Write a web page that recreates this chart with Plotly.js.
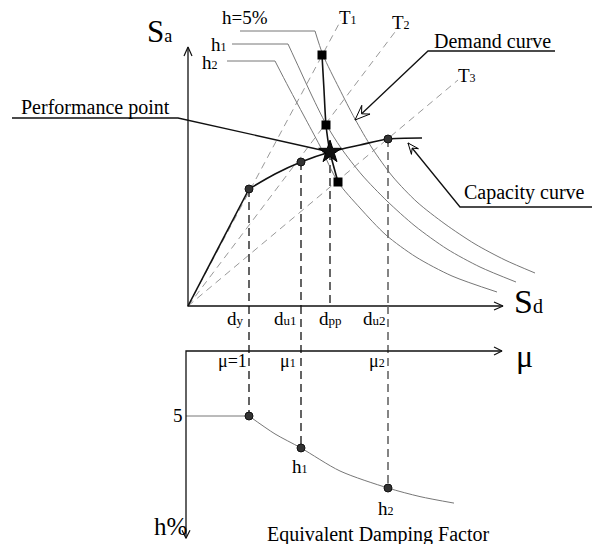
<!DOCTYPE html>
<html>
<head>
<meta charset="utf-8">
<script src="https://cdn.plot.ly/plotly-3.0.1.min.js"></script>
<style>html,body{margin:0;padding:0;background:#fff}#chart{width:592px;height:544px}</style>
</head>
<body>
<div id="chart"></div>
<script>
// ---------- DATA (schematic units: Sd / Sa, damping h%) ----------
const capElasticSd = [0, 61];
const capElasticSa = [0, 117];
const capPlasticSd = [61, 87, 113, 142, 172, 200, 234];
const capPlasticSa = [117, 132, 144, 154, 161, 167, 168];

const demand5Sd  = [127, 135, 151, 167, 184, 205, 229, 257, 287, 317, 347];
const demand5Sa  = [275, 251, 218, 187, 158, 129, 104, 82, 62, 46, 33];
const demandH1Sd = [100, 112, 124, 138, 153, 174, 199, 227, 259, 292, 328];
const demandH1Sa = [262, 236, 210, 182, 158, 131, 105, 80, 57, 39, 24];
const demandH2Sd = [87, 101, 116, 132, 150, 172, 198, 228, 264, 309];
const demandH2Sa = [245, 218, 190, 160, 124, 98, 71, 49, 30, 14];

const demandLabels = ['h=5%', 'h<span style="font-size:12px">1</span>', 'h<span style="font-size:12px">2</span>'];
const demandLabelSd = [52, 44, 39];

const periodLabels = ['T<span style="font-size:12px">1</span>', 'T<span style="font-size:12px">2</span>', 'T<span style="font-size:12px">3</span>'];
const periodEndSd = [153, 210, 270];
const periodEndSa = [286, 278, 226];

const trialSd = [134, 136, 138, 142, 150];
const trialSa = [251, 216, 181, 154, 124];
const trialMarkSd = [134, 138, 150];
const trialMarkSa = [251, 181, 124];

const ppSd = 142, ppSa = 154;

const dispLabels = ['d<span style="font-size:13px">y</span>', 'd<span style="font-size:13px">u1</span>',
                    'd<span style="font-size:13px">pp</span>', 'd<span style="font-size:13px">u2</span>'];
const dispSd = [61, 113, 142, 200];
const dispSa = [117, 144, 154, 167];

const muLabels = ['μ=1', 'μ<span style="font-size:12px">1</span>', 'μ<span style="font-size:12px">2</span>'];
const dampPointSd = [61, 113, 200];
const dampPointH  = [5, 7.46, 10.54];
const dampCurveSd = [61, 87, 113, 152, 200, 232, 266];
const dampCurveH  = [5, 6.38, 7.46, 9.23, 10.54, 11.2, 11.7];
const dampLabels = ['h<span style="font-size:12px">1</span>', 'h<span style="font-size:12px">2</span>'];

// ---------- frame geometry ----------
const W = 592, H = 544;
const xRange = [-188, 404];            // 1 unit = 1 px
const yRange = [-238, 306];            // 1 unit = 1 px
const hScale = 13, hZeroPx = 351;      // bottom panel: px per h%, px row of mu axis
const y2Range = [(H - hZeroPx) / hScale, -hZeroPx / hScale];

const toPx = (x, v, f) => [x - xRange[0], f === 'y2' ? hZeroPx + hScale * v : yRange[1] - v];
const fromPx = (px, py, f) => [px + xRange[0], f === 'y2' ? (py - hZeroPx) / hScale : yRange[1] - py];

function line(xs, ys, opts, yaxis) {
  return Object.assign({type: 'scatter', mode: 'lines', x: xs, y: ys, hoverinfo: 'skip',
    yaxis: yaxis || 'y', line: opts}, {});
}
function openArrow(tailX, tailY, tipX, tipY, f, len, half, col, w) {
  const [tx, ty] = toPx(tipX, tipY, f), [sx, sy] = toPx(tailX, tailY, f);
  let dx = tx - sx, dy = ty - sy; const n = Math.hypot(dx, dy); dx /= n; dy /= n;
  const bx = tx - dx * len, by = ty - dy * len, ppx = -dy, ppy = dx;
  const a1 = fromPx(bx + ppx * half, by + ppy * half, f), a2 = fromPx(bx - ppx * half, by - ppy * half, f);
  return line([a1[0], tipX, a2[0]], [a1[1], tipY, a2[1]], {color: col, width: w}, f);
}
function hollowArrow(tailX, tailY, tipX, tipY, len, half) {
  const [tx, ty] = toPx(tipX, tipY, 'y'), [sx, sy] = toPx(tailX, tailY, 'y');
  let dx = tx - sx, dy = ty - sy; const n = Math.hypot(dx, dy); dx /= n; dy /= n;
  const bx = tx - dx * len, by = ty - dy * len, ppx = -dy, ppy = dx;
  const nx = tx - dx * len * 0.6, ny = ty - dy * len * 0.6;
  const pts = [[tx, ty], [bx + ppx * half, by + ppy * half], [nx, ny], [bx - ppx * half, by - ppy * half], [tx, ty]]
    .map(p => fromPx(p[0], p[1], 'y'));
  return {type: 'scatter', mode: 'lines', x: pts.map(p => p[0]), y: pts.map(p => p[1]), fill: 'toself',
    fillcolor: '#fff', line: {color: '#000', width: 1}, hoverinfo: 'skip'};
}

const traces = [];
const grey = '#777', dashGrey = '#999';

// period lines (dashed)
for (let i = 0; i < periodEndSd.length; i++)
  traces.push(line([0, periodEndSd[i]], [0, periodEndSa[i]], {color: dashGrey, width: 1, dash: '7px,5px'}));

// demand curves + leaders
const dSd = [demand5Sd, demandH1Sd, demandH2Sd], dSa = [demand5Sa, demandH1Sa, demandH2Sa];
for (let i = 0; i < 3; i++) {
  traces.push(line(dSd[i], dSa[i], {color: grey, width: 1, shape: 'spline', smoothing: 0.8}));
  traces.push(line([demandLabelSd[i], dSd[i][0]], [dSa[i][0], dSa[i][0]], {color: grey, width: 1}));
}

// capacity curve
traces.push(line(capElasticSd, capElasticSa, {color: '#111', width: 1.6}));
traces.push(line(capPlasticSd, capPlasticSa, {color: '#111', width: 1.6, shape: 'spline', smoothing: 0.8}));

// trial-point path
traces.push(line(trialSd, trialSa, {color: '#111', width: 1.6, shape: 'spline', smoothing: 0.6}));

// vertical dashed projection lines
const vColors = ['#111', '#111', '#666', '#666'], vWidth = [1.3, 1.3, 2, 1.6];
const sdAxisH = (yRange[1] - hZeroPx) / hScale; // Sd axis row in h units (negative)
for (let i = 0; i < dispSd.length; i++) {
  traces.push(line([dispSd[i], dispSd[i]], [dispSa[i], 0], {color: vColors[i], width: vWidth[i], dash: '8px,5px'}));
}
const dampIdx = [0, 1, 3];
dampIdx.forEach((di, k) => {
  traces.push(line([dispSd[di], dispSd[di]], [sdAxisH, dampPointH[k]], {color: vColors[di], width: vWidth[di], dash: '8px,5px'}, 'y2'));
});

// damping curve
traces.push(line([-2, dampPointSd[0]], [dampPointH[0], dampPointH[0]], {color: grey, width: 1}, 'y2'));
traces.push(line(dampCurveSd, dampCurveH, {color: grey, width: 1, shape: 'spline', smoothing: 0.8}, 'y2'));

// axes
traces.push(line([0, 0, 315], [259, 0, 0], {color: '#111', width: 1.3}));
traces.push(openArrow(0, 0, 0, 259, 'y', 9, 4, '#111', 1.2));
traces.push(openArrow(0, 0, 315, 0, 'y', 9, 4, '#111', 1.2));
traces.push(line([-2, -2, 314], [14.4, 0, 0], {color: '#111', width: 1.3}, 'y2'));
traces.push(openArrow(0, 0, 314, 0, 'y2', 8, 4, '#111', 1.2));
traces.push(openArrow(-2, 0, -2, 14.4, 'y2', 8, 4, '#111', 1.2));

// leaders
traces.push(line([-176, -10, ppSd], [188, 188, ppSa], {color: '#111', width: 1.3}));
traces.push(line([367, 240, 167], [255, 255, 186], {color: '#111', width: 1.3}));
traces.push(hollowArrow(240, 255, 167, 186, 15, 6));
traces.push(line([404, 272, 220], [99, 99, 163], {color: '#111', width: 1.3}));
traces.push(hollowArrow(272, 99, 220, 163, 11, 4.5));

// markers
traces.push({type: 'scatter', mode: 'markers', x: [dispSd[0], dispSd[1], dispSd[3]], y: [dispSa[0], dispSa[1], dispSa[3]],
  marker: {symbol: 'circle', size: 8, color: '#333', line: {color: '#111', width: 1}}, hoverinfo: 'skip'});
traces.push({type: 'scatter', mode: 'markers', x: dampPointSd, y: dampPointH, yaxis: 'y2',
  marker: {symbol: 'circle', size: 8, color: '#333', line: {color: '#111', width: 1}}, hoverinfo: 'skip'});
traces.push({type: 'scatter', mode: 'markers', x: trialMarkSd, y: trialMarkSa,
  marker: {symbol: 'square', size: 9, color: '#000'}, hoverinfo: 'skip'});
traces.push({type: 'scatter', mode: 'markers', x: [ppSd], y: [ppSa],
  marker: {symbol: 'star', size: 17, color: '#111', line: {color: '#000', width: 1}}, hoverinfo: 'skip'});

// ---------- text ----------
const FONT = 'Liberation Serif, Times New Roman, serif';
const ann = [];
function txt(x, y, t, size, yref, xanchor) {
  ann.push({x, y, text: t, xref: 'x', yref: yref || 'y', showarrow: false, xanchor: xanchor || 'center',
    yanchor: 'middle', font: {family: FONT, size, color: '#000'}});
}
txt(-29, 275, 'S<span style="font-size:18px">a</span>', 31);
txt(340, 5, 'S<span style="font-size:20px">d</span>', 34);
txt(336, 0.4, 'μ', 32, 'y2');
txt(-18, 13.5, 'h%', 25, 'y2');
txt(57, 289, demandLabels[0], 19);
txt(31, 262, demandLabels[1], 19);
txt(22, 244, demandLabels[2], 19);
txt(160, 289, periodLabels[0], 19);
txt(213, 284, periodLabels[1], 19);
txt(279, 231, periodLabels[2], 19);
txt(304, 265, 'Demand curve', 20);
txt(-93, 199, 'Performance point', 20);
txt(274, 114, 'Capacity curve', 20, 'y', 'left');
const dispLabelSd = [47, 97, 142, 186];
dispLabels.forEach((t, i) => txt(dispLabelSd[i], -12, t, 19));
const muLabelSd = [44, 100, 189];
muLabels.forEach((t, i) => txt(muLabelSd[i], 0.75, t, 18, 'y2'));
txt(-10, 4.95, '5', 19, 'y2');
txt(112, 8.85, dampLabels[0], 19, 'y2');
txt(198, 12.1, dampLabels[1], 19, 'y2');
txt(190, 14.1, 'Equivalent Damping Factor', 20, 'y2');

const layout = {
  width: W, height: H, margin: {l: 0, r: 0, t: 0, b: 0, pad: 0},
  paper_bgcolor: '#fff', plot_bgcolor: '#fff', showlegend: false,
  xaxis: {range: xRange, visible: false, fixedrange: true},
  yaxis: {range: yRange, visible: false, fixedrange: true},
  yaxis2: {range: y2Range, visible: false, overlaying: 'y', fixedrange: true},
  annotations: ann, font: {family: FONT}
};
Plotly.newPlot('chart', traces, layout, {staticPlot: true, displayModeBar: false});
</script>
</body>
</html>
